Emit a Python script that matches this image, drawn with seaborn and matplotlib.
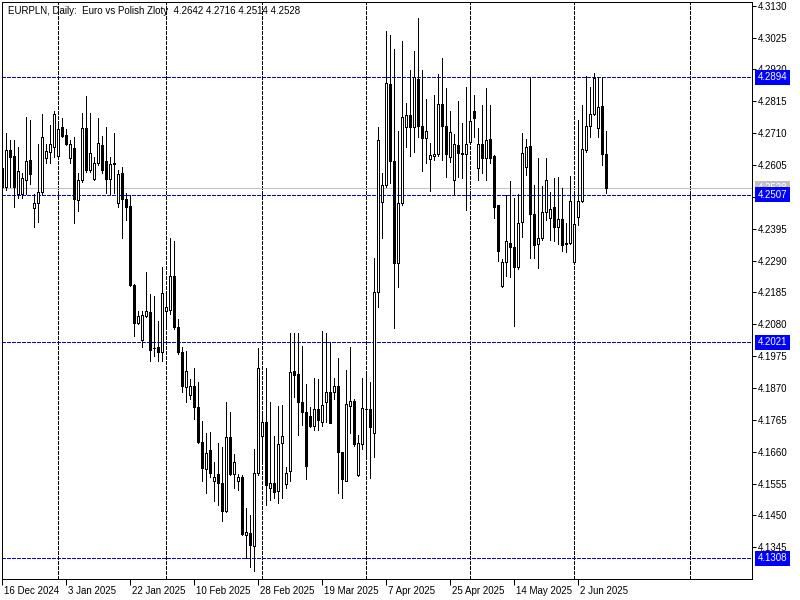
import numpy as np
import pandas as pd
import seaborn as sns
import matplotlib.pyplot as plt
import matplotlib.transforms as mtransforms

# EURPLN daily bars (broker calendar has Sunday bars: Sun..Fri)
dates = pd.bdate_range('2024-12-16', '2025-06-10', freq='C',
                       weekmask='Sun Mon Tue Wed Thu Fri')

opens = [4.2595, 4.2533, 4.2654, 4.2635, 4.2510, 4.2510, 4.2556, 4.2622, 4.2464, 4.2481,
         4.2517, 4.2628, 4.2648, 4.2664, 4.2635, 4.2730, 4.2703, 4.2628, 4.2661, 4.2490,
         4.2556, 4.2726, 4.2589, 4.2559, 4.2612, 4.2671, 4.2619, 4.2559, 4.2609, 4.2481,
         4.2579, 4.2494, 4.2471, 4.2209, 4.2084, 4.2028, 4.2107, 4.2120, 4.2002, 4.2005,
         4.1989, 4.2123, 4.2126, 4.2238, 4.2071, 4.1989, 4.1874, 4.1848, 4.1877, 4.1808,
         4.1693, 4.1604, 4.1664, 4.1562, 4.1585, 4.1556, 4.1464, 4.1707, 4.1585, 4.1565,
         4.1578, 4.1385, 4.1392, 4.1349, 4.1591, 4.1713, 4.1759, 4.1539, 4.1556, 4.1530,
         4.1690, 4.1552, 4.1595, 4.1926, 4.1917, 4.1825, 4.1792, 4.1779, 4.1746, 4.1802,
         4.1759, 4.1825, 4.1857, 4.1857, 4.1877, 4.1660, 4.1565, 4.1811, 4.1828, 4.1582,
         4.1684, 4.1802, 4.1802, 4.1723, 4.2185, 4.2484, 4.2540, 4.2871, 4.2619, 4.2281,
         4.2481, 4.2730, 4.2769, 4.2730, 4.2887, 4.2733, 4.2694, 4.2625, 4.2635, 4.2641,
         4.2805, 4.2733, 4.2632, 4.2556, 4.2671, 4.2645, 4.2641, 4.2681, 4.2782, 4.2595,
         4.2674, 4.2628, 4.2690, 4.2635, 4.2474, 4.2205, 4.2284, 4.2349, 4.2336, 4.2268,
         4.2418, 4.2599, 4.2667, 4.2444, 4.2346, 4.2363, 4.2451, 4.2431, 4.2467, 4.2399,
         4.2428, 4.2349, 4.2349, 4.2284, 4.2435, 4.2487, 4.2654, 4.2733, 4.2772, 4.2726,
         4.2799, 4.2642]

highs = [4.2605, 4.2710, 4.2687, 4.2687, 4.2664, 4.2579, 4.2763, 4.2753, 4.2510, 4.2674,
         4.2772, 4.2674, 4.2736, 4.2782, 4.2743, 4.2759, 4.2723, 4.2687, 4.2697, 4.2579,
         4.2776, 4.2832, 4.2776, 4.2632, 4.2759, 4.2700, 4.2730, 4.2632, 4.2710, 4.2589,
         4.2599, 4.2513, 4.2507, 4.2212, 4.2123, 4.2123, 4.2251, 4.2179, 4.2172, 4.2090,
         4.2268, 4.2176, 4.2365, 4.2353, 4.2097, 4.2005, 4.1992, 4.1900, 4.1936, 4.1890,
         4.1762, 4.1720, 4.1726, 4.1627, 4.1690, 4.1677, 4.1825, 4.1792, 4.1654, 4.1588,
         4.1582, 4.1474, 4.1451, 4.1670, 4.2002, 4.1792, 4.1936, 4.1825, 4.1713, 4.1811,
         4.1815, 4.1611, 4.2051, 4.2051, 4.2051, 4.2008, 4.1884, 4.1808, 4.1903, 4.1900,
         4.2057, 4.2051, 4.2021, 4.1903, 4.1969, 4.1660, 4.1930, 4.2005, 4.1834, 4.1716,
         4.1903, 4.1920, 4.1890, 4.2300, 4.2730, 4.2579, 4.3048, 4.3032, 4.2986, 4.2717,
         4.3012, 4.2808, 4.2917, 4.2982, 4.3091, 4.2917, 4.2822, 4.2677, 4.2835, 4.2904,
         4.2956, 4.2858, 4.2782, 4.2707, 4.2815, 4.2743, 4.2861, 4.2923, 4.2835, 4.2726,
         4.2802, 4.2858, 4.2802, 4.2638, 4.2474, 4.2294, 4.2507, 4.2553, 4.2497, 4.2510,
         4.2710, 4.2690, 4.2894, 4.2540, 4.2628, 4.2536, 4.2628, 4.2517, 4.2563, 4.2566,
         4.2530, 4.2415, 4.2569, 4.2490, 4.2753, 4.2802, 4.2897, 4.2861, 4.2907, 4.2894,
         4.2894, 4.2716]

lows = [4.2523, 4.2523, 4.2533, 4.2467, 4.2497, 4.2497, 4.2510, 4.2543, 4.2402, 4.2418,
        4.2507, 4.2612, 4.2612, 4.2632, 4.2632, 4.2697, 4.2671, 4.2612, 4.2415, 4.2454,
        4.2549, 4.2582, 4.2582, 4.2556, 4.2605, 4.2579, 4.2513, 4.2510, 4.2513, 4.2467,
        4.2365, 4.2425, 4.2205, 4.2041, 4.2080, 4.2005, 4.2103, 4.1959, 4.1976, 4.1959,
        4.1959, 4.2074, 4.2113, 4.2064, 4.1982, 4.1857, 4.1825, 4.1834, 4.1769, 4.1687,
        4.1562, 4.1523, 4.1578, 4.1497, 4.1484, 4.1431, 4.1460, 4.1582, 4.1539, 4.1533,
        4.1385, 4.1310, 4.1280, 4.1267, 4.1582, 4.1627, 4.1484, 4.1500, 4.1506, 4.1490,
        4.1506, 4.1539, 4.1562, 4.1841, 4.1716, 4.1749, 4.1569, 4.1743, 4.1733, 4.1730,
        4.1746, 4.1759, 4.1756, 4.1834, 4.1523, 4.1506, 4.1562, 4.1720, 4.1680, 4.1580,
        4.1670, 4.1644, 4.1572, 4.1644, 4.2136, 4.2365, 4.2533, 4.2546, 4.2067, 4.2202,
        4.2474, 4.2664, 4.2635, 4.2648, 4.2697, 4.2586, 4.2612, 4.2520, 4.2622, 4.2635,
        4.2622, 4.2566, 4.2615, 4.2510, 4.2566, 4.2563, 4.2458, 4.2677, 4.2697, 4.2556,
        4.2579, 4.2556, 4.2612, 4.2431, 4.2290, 4.2202, 4.2238, 4.2235, 4.2074, 4.2261,
        4.2369, 4.2572, 4.2300, 4.2300, 4.2264, 4.2359, 4.2425, 4.2359, 4.2356, 4.2343,
        4.2323, 4.2317, 4.2343, 4.2284, 4.2408, 4.2484, 4.2648, 4.2697, 4.2769, 4.2697,
        4.2605, 4.2514]

closes = [4.2533, 4.2654, 4.2632, 4.2533, 4.2586, 4.2563, 4.2619, 4.2576, 4.2481, 4.2517,
          4.2697, 4.2651, 4.2674, 4.2772, 4.2723, 4.2700, 4.2674, 4.2674, 4.2494, 4.2556,
          4.2726, 4.2589, 4.2645, 4.2612, 4.2677, 4.2589, 4.2559, 4.2609, 4.2610, 4.2576,
          4.2494, 4.2467, 4.2209, 4.2084, 4.2107, 4.2110, 4.2123, 4.1995, 4.2001, 4.1989,
          4.2182, 4.2136, 4.2238, 4.2071, 4.1989, 4.1877, 4.1926, 4.1877, 4.1808, 4.1693,
          4.1607, 4.1657, 4.1591, 4.1578, 4.1556, 4.1464, 4.1710, 4.1585, 4.1627, 4.1578,
          4.1388, 4.1395, 4.1352, 4.1591, 4.1936, 4.1759, 4.1549, 4.1556, 4.1526, 4.1684,
          4.1713, 4.1591, 4.1923, 4.1913, 4.1825, 4.1792, 4.1614, 4.1746, 4.1802, 4.1766,
          4.1815, 4.1857, 4.1756, 4.1877, 4.1660, 4.1569, 4.1818, 4.1828, 4.1684, 4.1690,
          4.1805, 4.1801, 4.1743, 4.2185, 4.2687, 4.2540, 4.2874, 4.2619, 4.2281, 4.2481,
          4.2763, 4.2769, 4.2730, 4.2894, 4.2733, 4.2694, 4.2717, 4.2638, 4.2641, 4.2805,
          4.2733, 4.2641, 4.2713, 4.2674, 4.2645, 4.2641, 4.2674, 4.2750, 4.2759, 4.2674,
          4.2628, 4.2687, 4.2628, 4.2467, 4.2320, 4.2284, 4.2353, 4.2336, 4.2268, 4.2415,
          4.2645, 4.2664, 4.2444, 4.2340, 4.2363, 4.2451, 4.2556, 4.2461, 4.2399, 4.2428,
          4.2340, 4.2346, 4.2487, 4.2412, 4.2487, 4.2658, 4.2733, 4.2772, 4.2891, 4.2795,
          4.2641, 4.2528]

# horizontal levels drawn on the chart
levels = [4.2894, 4.2507, 4.2021, 4.1308]
bid = 4.2528
price_ticks = [4.3130, 4.3025, 4.2920, 4.2815, 4.2710, 4.2605, 4.2500, 4.2395, 4.2290,
               4.2185, 4.2080, 4.1975, 4.1870, 4.1765, 4.1660, 4.1555, 4.1450, 4.1345]
title = 'EURPLN, Daily:  Euro vs Polish Zloty  4.2642 4.2716 4.2514 4.2528'

df = pd.DataFrame({'date': dates, 'open': opens, 'high': highs,
                   'low': lows, 'close': closes})
df['idx'] = np.arange(len(df))
up = df['close'] >= df['open']

# month boundaries for vertical grid (future part of chart counts calendar days)
future = pd.date_range(df['date'].iloc[-1] + pd.Timedelta(days=1), periods=40, freq='D')
all_days = list(df['date']) + list(future)
all_idx = list(df['idx']) + [df['idx'].iloc[-1] + (d - df['date'].iloc[-1]).days for d in future]
month_lines = [all_idx[k] for k in range(1, len(all_days))
               if all_days[k].month != all_days[k - 1].month]

sns.set_theme(style='white')
plt.rcParams['font.family'] = ['Liberation Sans', 'DejaVu Sans']
fs = 7
px = 0.72  # one pixel in points at 100 dpi

fig = plt.figure(figsize=(8, 6), dpi=100)
ax = fig.add_axes([1.5 / 800, 21 / 600, 750.5 / 800, 577.5 / 600])
ax.set_facecolor('white')

for m in month_lines:
    ax.axvline(m, color='black', lw=px, ls=(0, (3, 2)), zorder=1, antialiased=False)
ax.axhline(bid, color='#C0C0C0', lw=px, zorder=1, antialiased=False)
for lv in levels:
    ax.axhline(lv, color='#0000FF', lw=px, ls=(0, (3, 2)), zorder=2, antialiased=False)

# candles
ax.vlines(df['idx'], df['low'], df['high'], color='black', lw=px, zorder=3,
          antialiased=False)
ax.bar(df['idx'], df['close'] - df['open'], bottom=df['open'], width=0.5,
       color=np.where(up, 'white', 'black'), edgecolor='black', linewidth=px,
       zorder=4, antialiased=False)

ax.set_xlim(-0.125, 187.5)
ax.set_ylim(4.12404, 4.31438)

ax.yaxis.tick_right()
ax.set_yticks(price_ticks)
ax.set_yticklabels([f'{t:.4f}' for t in price_ticks])
lab_idx = df['idx'].iloc[::16].tolist()
lab_txt = [f'{d.day} {d:%b %Y}' for d in df['date'].iloc[::16]]
ax.set_xticks(lab_idx)
ax.set_xticklabels(lab_txt)
ax.tick_params(axis='y', which='both', right=True, left=False, direction='out',
               length=3, width=px, pad=1.5, labelsize=fs, colors='black')
ax.tick_params(axis='x', which='both', bottom=True, direction='out',
               length=4, width=px, pad=1, labelsize=fs, colors='black')
shift = mtransforms.ScaledTranslation(2 / 100, 0, fig.dpi_scale_trans)
for lbl in ax.get_xticklabels():
    lbl.set_horizontalalignment('left')
    lbl.set_transform(lbl.get_transform() + shift)

for s in ax.spines.values():
    s.set_color('black')
    s.set_linewidth(px)
ax.grid(False)

# price labels on right scale
trans = mtransforms.blended_transform_factory(ax.transAxes, ax.transData)
ax.text(1.0075, bid, f'{bid:.4f}', transform=trans, ha='left', va='center',
        color='white', fontsize=fs, clip_on=False, zorder=5,
        bbox=dict(boxstyle='square,pad=0.25', fc='#C0C0C0', ec='none'))
for lv in levels:
    ax.text(1.0075, lv, f'{lv:.4f}', transform=trans, ha='left', va='center',
            color='white', fontsize=fs, clip_on=False, zorder=6,
            bbox=dict(boxstyle='square,pad=0.25', fc='#0000FF', ec='none'))

ax.text(0.008, 0.992, title, transform=ax.transAxes, ha='left', va='top',
        fontsize=fs, color='black', zorder=7)

plt.savefig('out.png', dpi=100)
